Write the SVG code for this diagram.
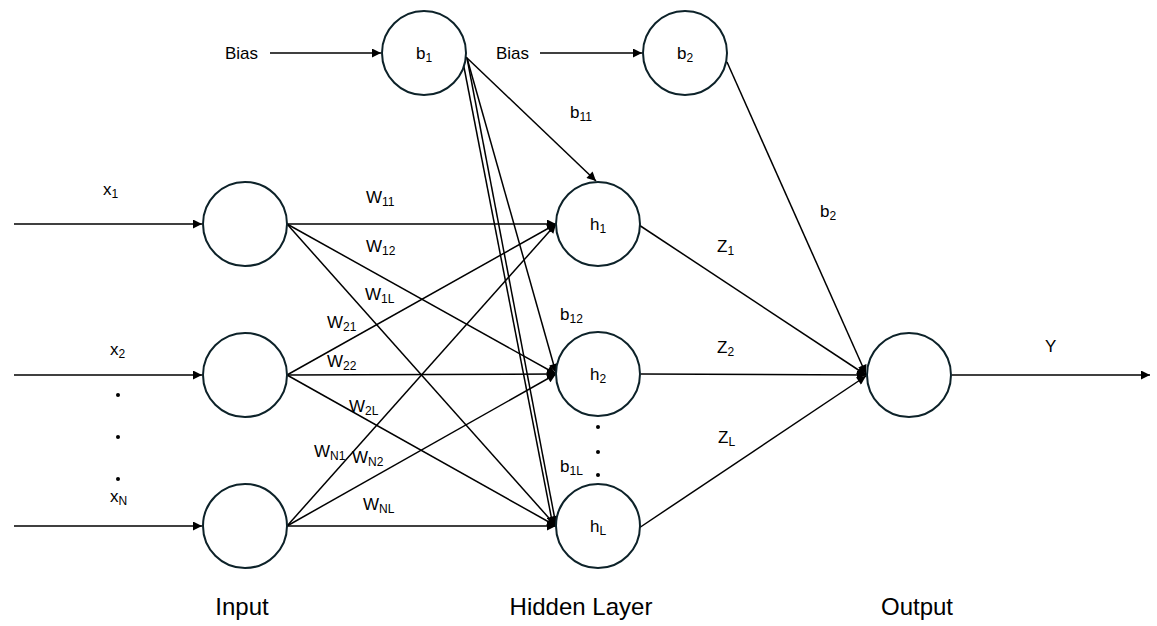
<svg xmlns="http://www.w3.org/2000/svg" width="1157" height="626" viewBox="0 0 1157 626">
<style>
.node{fill:#fff;stroke:#0d2229;stroke-width:2}
.ln{stroke:#000;stroke-width:1.5;fill:none}
.t{font-family:"Liberation Sans",Arial,sans-serif;font-size:17px;fill:#000}
.b{font-family:"Liberation Sans",Arial,sans-serif;font-size:17px;fill:#000}
.big{font-family:"Liberation Sans",Arial,sans-serif;font-size:24px;fill:#000;text-anchor:middle}
.s{font-size:12px}
.c{text-anchor:middle}
</style>
<defs>
<marker id="ah" viewBox="0 0 10 10" refX="10" refY="5" markerWidth="10" markerHeight="9" markerUnits="userSpaceOnUse" orient="auto">
<path d="M0,0 L10,5 L0,10 z" fill="#000"/>
</marker>
</defs>
<rect width="1157" height="626" fill="#fff"/>
<g id="connectors">
<line class="ln" x1="14" y1="224" x2="202" y2="224" marker-end="url(#ah)"/>
<line class="ln" x1="14" y1="375" x2="202" y2="375" marker-end="url(#ah)"/>
<line class="ln" x1="14" y1="526" x2="202" y2="526" marker-end="url(#ah)"/>
<line class="ln" x1="270" y1="53" x2="381" y2="53" marker-end="url(#ah)"/>
<line class="ln" x1="540" y1="53" x2="642" y2="53" marker-end="url(#ah)"/>
<line class="ln" x1="287" y1="224" x2="556" y2="224" marker-end="url(#ah)"/>
<line class="ln" x1="287" y1="224" x2="556" y2="374" marker-end="url(#ah)"/>
<line class="ln" x1="287" y1="224" x2="556" y2="526" marker-end="url(#ah)"/>
<line class="ln" x1="287" y1="375" x2="556" y2="224" marker-end="url(#ah)"/>
<line class="ln" x1="287" y1="375" x2="556" y2="374" marker-end="url(#ah)"/>
<line class="ln" x1="287" y1="375" x2="556" y2="526" marker-end="url(#ah)"/>
<line class="ln" x1="287" y1="526" x2="556" y2="224" marker-end="url(#ah)"/>
<line class="ln" x1="287" y1="526" x2="556" y2="374" marker-end="url(#ah)"/>
<line class="ln" x1="287" y1="526" x2="556" y2="526" marker-end="url(#ah)"/>
<line class="ln" x1="466" y1="57" x2="596" y2="181" marker-end="url(#ah)"/>
<line class="ln" x1="467" y1="58" x2="556" y2="373" marker-end="url(#ah)"/>
<line class="ln" x1="467" y1="58" x2="556" y2="525" marker-end="url(#ah)"/>
<line class="ln" x1="463" y1="62" x2="553" y2="526" marker-end="url(#ah)"/>
<line class="ln" x1="727" y1="62" x2="866" y2="374" marker-end="url(#ah)"/>
<line class="ln" x1="639" y1="225" x2="866" y2="375" marker-end="url(#ah)"/>
<line class="ln" x1="641" y1="374" x2="866" y2="375" marker-end="url(#ah)"/>
<line class="ln" x1="639" y1="528" x2="866" y2="376" marker-end="url(#ah)"/>
<line class="ln" x1="952" y1="375" x2="1150" y2="375" marker-end="url(#ah)"/>
</g>
<g id="in1"><circle class="node" cx="245" cy="224" r="42"/></g>
<g id="in2"><circle class="node" cx="245" cy="375" r="42"/></g>
<g id="inN"><circle class="node" cx="245" cy="526" r="42"/></g>
<g id="b1"><circle class="node" cx="424" cy="53" r="42"/><text class="t c" x="424" y="59">b<tspan class="s" dy="3">1</tspan></text></g>
<g id="b2"><circle class="node" cx="685" cy="53" r="42"/><text class="t c" x="685" y="59">b<tspan class="s" dy="3">2</tspan></text></g>
<g id="h1"><circle class="node" cx="598" cy="224" r="42"/><text class="t c" x="598" y="230">h<tspan class="s" dy="3">1</tspan></text></g>
<g id="h2"><circle class="node" cx="598" cy="374" r="42"/><text class="t c" x="598" y="380">h<tspan class="s" dy="3">2</tspan></text></g>
<g id="hL"><circle class="node" cx="598" cy="526" r="42"/><text class="t c" x="598" y="532">h<tspan class="s" dy="3">L</tspan></text></g>
<g id="out"><circle class="node" cx="909" cy="375" r="42"/></g>
<g id="labels">
<text class="b" x="225" y="59">Bias</text>
<text class="b" x="496" y="59">Bias</text>
<text class="t" x="103" y="195">x<tspan class="s" dy="3">1</tspan></text>
<text class="t" x="110" y="355">x<tspan class="s" dy="3">2</tspan></text>
<text class="t" x="110" y="502">x<tspan class="s" dy="3">N</tspan></text>
<circle cx="118" cy="395" r="2" fill="#000"/>
<circle cx="118" cy="437" r="2" fill="#000"/>
<circle cx="118" cy="479" r="2" fill="#000"/>
<circle cx="598" cy="427" r="2" fill="#000"/>
<circle cx="598" cy="452" r="2" fill="#000"/>
<circle cx="598" cy="475" r="2" fill="#000"/>
<text class="t" x="366" y="203">W<tspan class="s" dy="3">11</tspan></text>
<text class="t" x="366" y="252">W<tspan class="s" dy="3">12</tspan></text>
<text class="t" x="365" y="300">W<tspan class="s" dy="3">1L</tspan></text>
<text class="t" x="327" y="328">W<tspan class="s" dy="3">21</tspan></text>
<text class="t" x="327" y="367">W<tspan class="s" dy="3">22</tspan></text>
<text class="t" x="349" y="412">W<tspan class="s" dy="3">2L</tspan></text>
<text class="t" x="314" y="457">W<tspan class="s" dy="3">N1</tspan></text>
<text class="t" x="352" y="463">W<tspan class="s" dy="3">N2</tspan></text>
<text class="t" x="363" y="510">W<tspan class="s" dy="3">NL</tspan></text>
<text class="t" x="570" y="118">b<tspan class="s" dy="3">11</tspan></text>
<text class="t" x="560" y="320">b<tspan class="s" dy="3">12</tspan></text>
<text class="t" x="560" y="472">b<tspan class="s" dy="3">1L</tspan></text>
<text class="t" x="717" y="252">Z<tspan class="s" dy="3">1</tspan></text>
<text class="t" x="717" y="353">Z<tspan class="s" dy="3">2</tspan></text>
<text class="t" x="718" y="443">Z<tspan class="s" dy="3">L</tspan></text>
<text class="t" x="820" y="217">b<tspan class="s" dy="3">2</tspan></text>
<text class="t" x="1045" y="352">Y</text>
<text class="big" x="242" y="615">Input</text>
<text class="big" x="581" y="615">Hidden Layer</text>
<text class="big" x="917" y="615">Output</text>
</g>
</svg>
